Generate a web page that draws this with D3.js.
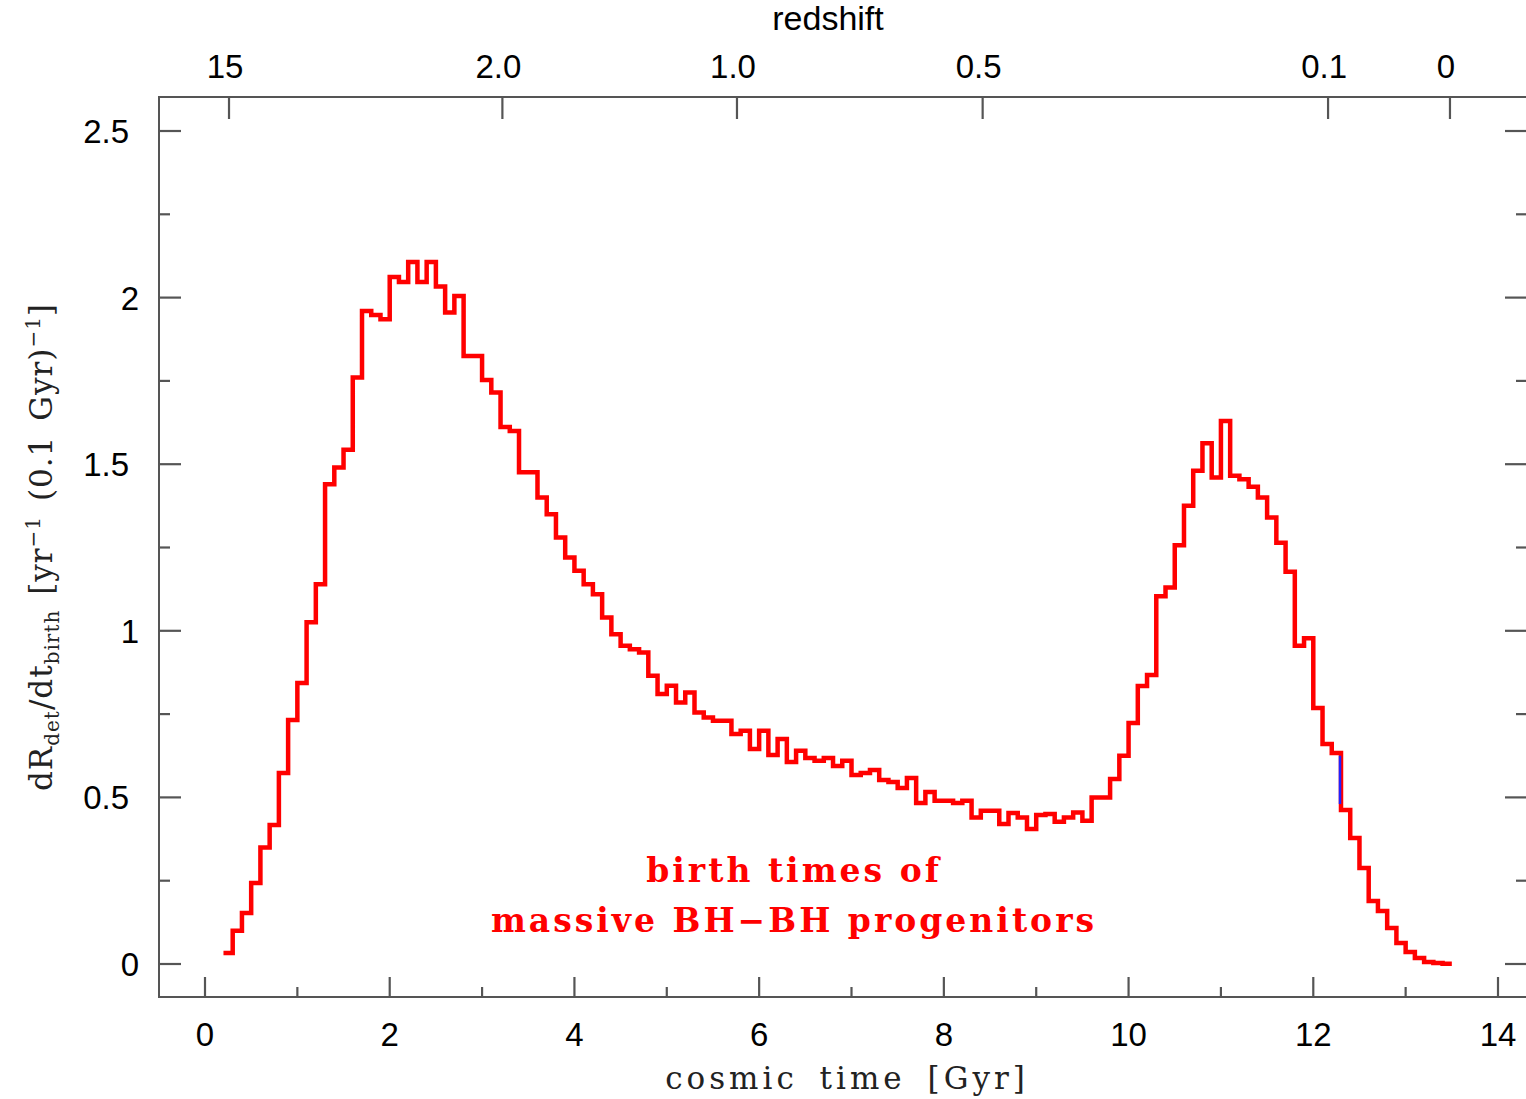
<!DOCTYPE html>
<html>
<head>
<meta charset="utf-8">
<script src="https://cdn.jsdelivr.net/npm/d3@7"></script>
<style>
  body { margin: 0; background: #fff; }
  svg { display: block; }
  .tick-label { font-family: "Liberation Sans", Arial, sans-serif; font-size: 33px; fill: #000; }
  .axis-title { font-family: "DejaVu Serif", "Liberation Serif", serif; font-size: 31px; fill: #222; }
</style>
</head>
<body>
<div id="chart"></div>
<script>
// histogram of birth times, bins of 0.1 Gyr starting at 0.2 Gyr
var binStart = 0.2;
var binWidth = 0.1;
var rates = [
  0.033, 0.10, 0.153, 0.243, 0.35, 0.417, 0.573, 0.732, 0.843,
  1.026, 1.14, 1.44, 1.49, 1.543, 1.76, 1.96, 1.948, 1.935,
  2.062, 2.047, 2.107, 2.047, 2.107, 2.033, 1.955, 2.005, 1.825, 1.825,
  1.753, 1.715, 1.612, 1.60, 1.476, 1.476, 1.40, 1.35, 1.28, 1.22,
  1.18, 1.14, 1.11, 1.04, 0.99, 0.955, 0.945, 0.935, 0.865, 0.81,
  0.835, 0.785, 0.815, 0.755, 0.74, 0.73, 0.73, 0.69, 0.70, 0.645,
  0.70, 0.627, 0.675, 0.606, 0.64, 0.618, 0.61, 0.618, 0.594, 0.61,
  0.567, 0.573, 0.582, 0.552, 0.546, 0.528, 0.558, 0.483, 0.516, 0.49,
  0.49, 0.483, 0.49, 0.44, 0.46, 0.46, 0.42, 0.453, 0.44, 0.405,
  0.447, 0.45, 0.427, 0.44, 0.455, 0.43, 0.50, 0.50, 0.555, 0.625,
  0.723, 0.834, 0.867, 1.104, 1.13, 1.257, 1.375, 1.48, 1.563, 1.46,
  1.63, 1.465, 1.455, 1.432, 1.40, 1.34, 1.264, 1.177, 0.955, 0.978,
  0.768, 0.66, 0.633, 0.462, 0.378, 0.288, 0.189, 0.159, 0.108, 0.063,
  0.036, 0.018, 0.006, 0.003, 0.001
];

// small blue piece peeking out under the red line
var blueT = [12.3, 12.3];
var blueV = [0.625, 0.48];

var xTicks = [0, 2, 4, 6, 8, 10, 12, 14];
var xMinor = [1, 3, 5, 7, 9, 11, 13];
var yTicks = [0, 0.5, 1, 1.5, 2, 2.5];
var yTickLabels = ["0", "0.5", "1", "1.5", "2", "2.5"];
var yMinor = [0.25, 0.75, 1.25, 1.75, 2.25];

// redshift labels on top axis, placed at their cosmic time
var zLabels = ["15", "2.0", "1.0", "0.5", "0.1", "0"];
var zTimes = [0.26, 3.22, 5.76, 8.42, 12.16, 13.48];

var W = 1526, H = 1099;
var frame = {left: 159, top: 97, right: 1527, bottom: 997};

var svg = d3.select("#chart").append("svg")
    .attr("width", W)
    .attr("height", H);

var x = d3.scaleLinear().domain([0, 14]).range([205, 1498]);
var y = d3.scaleLinear().domain([0, 2.5]).range([964, 131]);

var axisColor = "#555";

// frame
svg.append("rect")
    .attr("x", frame.left)
    .attr("y", frame.top)
    .attr("width", frame.right - frame.left)
    .attr("height", frame.bottom - frame.top)
    .attr("fill", "none")
    .attr("stroke", axisColor)
    .attr("stroke-width", 2);

var ticks = svg.append("g").attr("stroke", axisColor).attr("stroke-width", 2.2);

// bottom ticks
ticks.selectAll(".xmaj").data(xTicks).enter().append("line")
    .attr("x1", function(d) { return x(d); }).attr("x2", function(d) { return x(d); })
    .attr("y1", frame.bottom).attr("y2", frame.bottom - 20);
ticks.selectAll(".xmin").data(xMinor).enter().append("line")
    .attr("x1", function(d) { return x(d); }).attr("x2", function(d) { return x(d); })
    .attr("y1", frame.bottom).attr("y2", frame.bottom - 10);

// left and right ticks
[frame.left, frame.right].forEach(function(edge, k) {
  var dir = k == 0 ? 1 : -1;
  ticks.selectAll(".ymaj" + k).data(yTicks).enter().append("line")
      .attr("x1", edge).attr("x2", edge + dir * 22)
      .attr("y1", function(d) { return y(d); }).attr("y2", function(d) { return y(d); });
  ticks.selectAll(".ymin" + k).data(yMinor).enter().append("line")
      .attr("x1", edge).attr("x2", edge + dir * 11)
      .attr("y1", function(d) { return y(d); }).attr("y2", function(d) { return y(d); });
});

// top (redshift) ticks
ticks.selectAll(".ztick").data(zTimes).enter().append("line")
    .attr("x1", function(d) { return x(d); }).attr("x2", function(d) { return x(d); })
    .attr("y1", frame.top).attr("y2", frame.top + 22);

// tick labels
svg.selectAll(".xlab").data(xTicks).enter().append("text")
    .attr("class", "tick-label")
    .attr("x", function(d) { return x(d); })
    .attr("y", 1046)
    .attr("text-anchor", "middle")
    .text(function(d) { return d; });

svg.selectAll(".ylab").data(yTicks).enter().append("text")
    .attr("class", "tick-label")
    .attr("x", function(d, i) { return yTickLabels[i].length > 1 ? 129 : 139; })
    .attr("y", function(d) { return y(d) + 12; })
    .attr("text-anchor", "end")
    .text(function(d, i) { return yTickLabels[i]; });

svg.selectAll(".zlab").data(zTimes).enter().append("text")
    .attr("class", "tick-label")
    .attr("x", function(d) { return x(d) - 4; })
    .attr("y", 78)
    .attr("text-anchor", "middle")
    .text(function(d, i) { return zLabels[i]; });

svg.append("text")
    .attr("class", "tick-label")
    .attr("x", 828)
    .attr("y", 30)
    .attr("text-anchor", "middle")
    .style("font-size", "34px")
    .text("redshift");

// axis titles
svg.append("text")
    .attr("class", "axis-title")
    .attr("x", 847)
    .attr("y", 1089)
    .attr("text-anchor", "middle")
    .style("letter-spacing", "4px")
    .style("word-spacing", "8px")
    .text("cosmic time [Gyr]");

var yt = svg.append("text")
    .attr("class", "axis-title")
    .attr("transform", "translate(52,547) rotate(-90)")
    .attr("text-anchor", "middle")
    .style("letter-spacing", "1px")
    .style("word-spacing", "4px");
yt.append("tspan").text("dR");
yt.append("tspan").attr("dy", 7).style("font-size", "20px").text("det");
yt.append("tspan").attr("dy", -7).text("/dt");
yt.append("tspan").attr("dy", 7).style("font-size", "20px").text("birth");
yt.append("tspan").attr("dy", -7).text(" [yr");
yt.append("tspan").attr("dy", -12).style("font-size", "20px").text("−1");
yt.append("tspan").attr("dy", 12).text(" (0.1 Gyr)");
yt.append("tspan").attr("dy", -12).style("font-size", "20px").text("−1");
yt.append("tspan").attr("dy", 12).text("]");

// histogram
var pts = rates.map(function(v, i) {
  return {t: binStart + i * binWidth, v: v};
});
pts.push({t: binStart + rates.length * binWidth, v: rates[rates.length - 1]});

var line = d3.line()
    .x(function(d) { return x(d.t); })
    .y(function(d) { return y(d.v); })
    .curve(d3.curveStepAfter);

svg.append("path")
    .datum(pts)
    .attr("d", line)
    .attr("fill", "none")
    .attr("stroke", "#ff0000")
    .attr("stroke-width", 4.5)
    .attr("stroke-linejoin", "miter");

svg.append("line")
    .attr("x1", x(blueT[0]) - 1).attr("x2", x(blueT[1]) - 1)
    .attr("y1", y(blueV[0])).attr("y2", y(blueV[1]))
    .attr("stroke", "#2020ff")
    .attr("stroke-width", 2.5);

// annotation
var note = svg.append("text")
    .attr("text-anchor", "middle")
    .style("font-family", "'DejaVu Serif', 'Liberation Serif', serif")
    .style("font-weight", "bold")
    .style("font-size", "33px")
    .style("letter-spacing", "3px")
    .attr("fill", "#ff0000");
note.append("tspan").attr("x", 794).attr("y", 882).text("birth  times  of");
note.append("tspan").attr("x", 794).attr("y", 932).text("massive  BH−BH  progenitors");
</script>
</body>
</html>
